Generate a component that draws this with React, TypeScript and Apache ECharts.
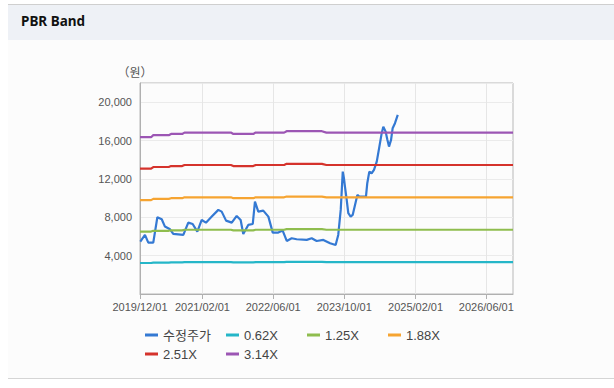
import React, { useEffect, useRef } from 'react';
import * as echarts from 'echarts';

// 수정주가 (adjusted price)
const priceDates = [
  '2019-12-03', '2020-01-04', '2020-01-27', '2020-03-01', '2020-03-29', '2020-04-28', '2020-05-20',
  '2020-06-24', '2020-07-16', '2020-09-23', '2020-10-27', '2020-11-26', '2020-12-28', '2021-01-27',
  '2021-02-25', '2021-04-06', '2021-05-21', '2021-06-13', '2021-07-13', '2021-08-21', '2021-09-24',
  '2021-10-21', '2021-11-08', '2021-12-12', '2022-01-12', '2022-01-27', '2022-02-19', '2022-03-25',
  '2022-04-29', '2022-05-29', '2022-07-06', '2022-08-05', '2022-09-02', '2022-10-06', '2022-11-09',
  '2023-01-17', '2023-02-20', '2023-03-26', '2023-05-11', '2023-06-26', '2023-08-03', '2023-08-21',
  '2023-09-07', '2023-09-21', '2023-09-29', '2023-10-06', '2023-10-18', '2023-10-29', '2023-11-14',
  '2023-11-28', '2023-12-14', '2023-12-30', '2024-01-12', '2024-02-27', '2024-03-07', '2024-03-21',
  '2024-04-06', '2024-04-22', '2024-05-11', '2024-05-29', '2024-06-14', '2024-06-25', '2024-07-11',
  '2024-07-22', '2024-08-03', '2024-08-17', '2024-08-28', '2024-09-13', '2024-10-02',
];
const priceValues = [
  5460, 6160, 5360, 5360, 8000, 7800, 7030,
  6750, 6260, 6160, 7440, 7300, 6500, 7720,
  7440, 8070, 8770, 8590, 7650, 7440, 8140,
  7720, 6260, 7200, 7300, 9630, 8590, 8690,
  8070, 6400, 6400, 6610, 5530, 5810, 5710,
  5640, 5810, 5530, 5640, 5290, 5110, 6160,
  8770, 12760, 12070, 11200, 9810, 8420, 8070,
  8240, 9290, 10330, 10150, 10150, 11550, 12760,
  12590, 12940, 13800, 15370, 16770, 17450, 16930,
  16140, 15370, 16070, 17290, 17810, 18680,
];

// PBR band lines
const bandDates = [
  '2019-12-01', '2020-02-15', '2020-03-01', '2020-06-15', '2020-07-01', '2020-09-15', '2020-10-01',
  '2021-08-15', '2021-09-01', '2022-01-15', '2022-02-01', '2022-08-15', '2022-09-01', '2023-05-01',
  '2023-06-01', '2026-12-01',
];
const band062 = [3230, 3230, 3270, 3270, 3300, 3300, 3320, 3320, 3300, 3300, 3320, 3320, 3350, 3350, 3320, 3320];
const band125 = [6510, 6510, 6590, 6590, 6640, 6640, 6700, 6700, 6640, 6640, 6700, 6700, 6760, 6760, 6700, 6700];
const band188 = [9790, 9790, 9915, 9915, 9990, 9990, 10080, 10080, 9990, 9990, 10080, 10080, 10160, 10160, 10080, 10080];
const band251 = [13070, 13070, 13240, 13240, 13340, 13340, 13450, 13450, 13340, 13340, 13450, 13450, 13570, 13570, 13450, 13450];
const band314 = [16350, 16350, 16560, 16560, 16690, 16690, 16830, 16830, 16690, 16690, 16830, 16830, 16975, 16975, 16830, 16830];

const seriesNames = ['수정주가', '0.62X', '1.25X', '1.88X', '2.51X', '3.14X'];
const seriesColors = ['#3479d3', '#25b6c8', '#8fbd4e', '#f6a431', '#d5332c', '#9c56b4'];

const xTickDates = ['2019-12-01', '2021-02-01', '2022-06-01', '2023-10-01', '2025-02-01', '2026-06-01'];
const xMin = '2019-12-01';
const xMax = '2026-12-01';

const ts = (s: string) => {
  const [y, m, d] = s.split('-').map(Number);
  return new Date(y, m - 1, d).getTime();
};
const pad = (n: number) => (n < 10 ? '0' + n : '' + n);
const pairs = (dates: string[], vals: number[]) => dates.map((d, i) => [ts(d), vals[i]]);

const FONT = '"Liberation Sans", Arial, "Noto Sans CJK KR", sans-serif';

export default function App() {
  const ref = useRef<HTMLDivElement>(null);
  useEffect(() => {
    if (!ref.current) return;
    const chart = echarts.init(ref.current, undefined, { renderer: 'svg' });
    const bands = [band062, band125, band188, band251, band314];
    const series: any[] = [
      {
        name: seriesNames[0],
        type: 'line',
        data: pairs(priceDates, priceValues),
        symbol: 'none',
        lineStyle: { width: 2.2, color: seriesColors[0] },
        itemStyle: { color: seriesColors[0] },
      },
      ...bands.map((b, i) => ({
        name: seriesNames[i + 1],
        type: 'line',
        data: pairs(bandDates, b),
        symbol: 'none',
        lineStyle: { width: 2.2, color: seriesColors[i + 1] },
        itemStyle: { color: seriesColors[i + 1] },
      })),
    ];
    chart.setOption({
      animation: false,
      backgroundColor: '#ffffff',
      graphic: [
        { type: 'rect', shape: { x: 8, y: 40, width: 606, height: 338 }, style: { fill: '#fcfcfc' }, z: -10 },
        { type: 'rect', shape: { x: 8, y: 5, width: 606, height: 35 }, style: { fill: '#eef1f6' }, z: -10 },
        { type: 'line', shape: { x1: 8, y1: 4.5, x2: 614, y2: 4.5 }, style: { stroke: '#cfcfcf', lineWidth: 1 }, z: -9 },
        { type: 'line', shape: { x1: 8, y1: 378.5, x2: 614, y2: 378.5 }, style: { stroke: '#d5d5d5', lineWidth: 1 }, z: -9 },
        {
          type: 'text', left: 21, top: 14,
          style: { text: 'PBR Band', font: 'bold 13.5px "Noto Sans", sans-serif', fill: '#111111' },
        },
      ],
      grid: {
        left: 140, top: 83, right: 101, bottom: 94,
        show: true, borderColor: '#b8b8b8', borderWidth: 1, backgroundColor: 'transparent',
      },
      legend: {
        data: seriesNames,
        left: 140, top: 322, width: 335,
        icon: 'rect', itemWidth: 13, itemHeight: 3, itemGap: 3,
        textStyle: { fontSize: 13, color: '#444', fontFamily: FONT, width: 60, height: 16, lineHeight: 16 },
        selectedMode: false,
      },
      xAxis: {
        type: 'value',
        min: ts(xMin), max: ts(xMax),
        axisLine: { lineStyle: { color: '#b0b0b0' } },
        axisTick: { show: true, length: 5, lineStyle: { color: '#b0b0b0' }, customValues: xTickDates.map(ts) },
        axisLabel: {
          customValues: xTickDates.map(ts),
          color: '#555', fontSize: 11, fontFamily: FONT, margin: 7, hideOverlap: false,
          formatter: (v: number) => {
            const d = new Date(v);
            return `${d.getFullYear()}/${pad(d.getMonth() + 1)}/${pad(d.getDate())}`;
          },
        },
        splitLine: { show: true, lineStyle: { color: '#e6e6e6' } },
      },
      yAxis: {
        type: 'value',
        min: 0, max: 22000, interval: 4000,
        name: '（원）', nameLocation: 'end', nameGap: 6,
        nameTextStyle: { color: '#555', fontSize: 12, fontFamily: '"Noto Sans CJK KR", sans-serif', align: 'center', padding: [0, 0, 0, -10] },
        axisLine: { show: true, lineStyle: { color: '#b0b0b0' } },
        axisTick: { show: false },
        axisLabel: {
          color: '#555', fontSize: 11, fontFamily: FONT, margin: 8,
          showMinLabel: false, showMaxLabel: false,
          formatter: (v: number) => (v === 0 || v > 20000 ? '' : v.toLocaleString('en-US')),
        },
        splitLine: { show: true, lineStyle: { color: '#ebebeb' } },
      },
      series,
    });
    return () => chart.dispose();
  }, []);
  return <div ref={ref} style={{ position: 'absolute', left: 0, top: 0, width: 614, height: 388 }} />;
}
